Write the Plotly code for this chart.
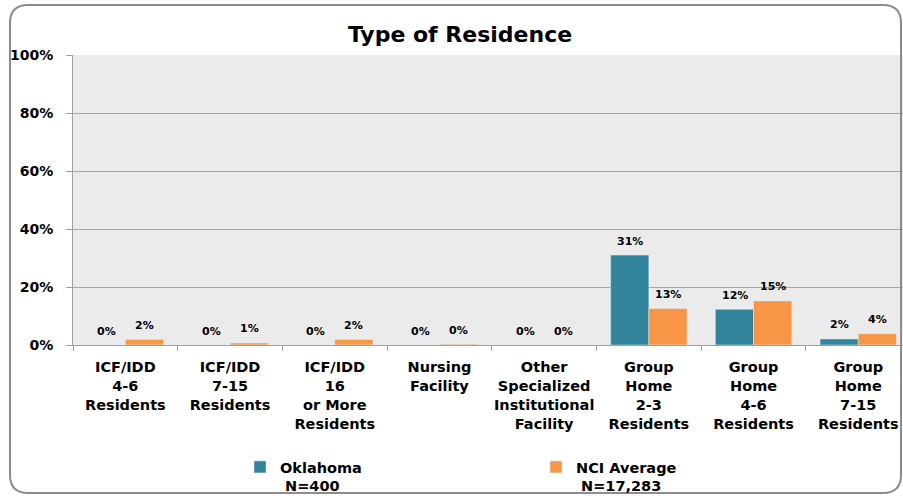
import plotly.graph_objects as go

categories = [
    "ICF/IDD<br>4-6<br>Residents",
    "ICF/IDD<br>7-15<br>Residents",
    "ICF/IDD<br>16<br>or More<br>Residents",
    "Nursing<br>Facility",
    "Other<br>Specialized<br>Institutional<br>Facility",
    "Group<br>Home<br>2-3<br>Residents",
    "Group<br>Home<br>4-6<br>Residents",
    "Group<br>Home<br>7-15<br>Residents",
]
oklahoma = [0.0, 0.0, 0.0, 0.0, 0.0, 31.0, 12.3, 2.1]
nci = [1.9, 0.7, 1.9, 0.3, 0.0, 12.6, 15.2, 3.9]
series_names = ["Oklahoma<br>\u00a0N=400", "NCI Average<br>\u00a0N=17,283"]
y_ticks = [0, 20, 40, 60, 80, 100]
y_tick_labels = ["0%", "20%", "40%", "60%", "80%", "100%"]

TEAL = "#31849B"
ORANGE = "#F79646"
FONT = "DejaVu Sans"

W, H = 903, 500
ML, MR, MT, MB = 73, 0, 55, 155
PW, PH = W - ML - MR, H - MT - MB
cat_px = 104.7
x_hi = -0.5 + PW / cat_px


def bold_lines(s):
    return "<b>" + s.replace("<br>", "</b><br><b>") + "</b>"


fig = go.Figure()
fig.add_bar(x=categories, y=oklahoma, name=bold_lines(series_names[0]), marker_color=TEAL)
fig.add_bar(x=categories, y=nci, name=bold_lines(series_names[1]), marker_color=ORANGE)

annotations = []
for vals, shift in ((oklahoma, -19), (nci, 19)):
    for c, v in zip(categories, vals):
        annotations.append(dict(
            x=c, y=v, xref="x", yref="y", text=f"<b>{round(v):d}%</b>",
            showarrow=False, xshift=shift, yshift=14, yanchor="middle",
            font=dict(family=FONT, size=11, color="#000"),
        ))


# rounded outer border (pixel -> paper)
def P(xp, yp):
    a, b = (xp - ML) / PW, (MT + PH - yp) / PH
    return f"{a:.5f},{b:.5f}"


x0, y0, x1, y1, r = 10, 5, 901, 493, 18
path = (
    f"M {P(x0 + r, y0)} L {P(x1 - r, y0)} Q {P(x1, y0)} {P(x1, y0 + r)} "
    f"L {P(x1, y1 - r)} Q {P(x1, y1)} {P(x1 - r, y1)} "
    f"L {P(x0 + r, y1)} Q {P(x0, y1)} {P(x0, y1 - r)} "
    f"L {P(x0, y0 + r)} Q {P(x0, y0)} {P(x0 + r, y0)} Z"
)

fig.update_layout(
    width=W, height=H,
    margin=dict(l=ML, r=MR, t=MT, b=MB, autoexpand=False),
    paper_bgcolor="white",
    plot_bgcolor="#EBEBEB",
    barmode="group",
    bargap=0.27,
    bargroupgap=0,
    font=dict(family=FONT, color="#000"),
    title=dict(text="<b>Type of Residence</b>", x=460 / W, xanchor="center",
               y=1 - 34 / H, yanchor="middle", yref="container",
               font=dict(family=FONT, size=22, color="#000")),
    xaxis=dict(
        range=[-0.5, x_hi], tickson="boundaries", ticks="outside", ticklen=5,
        tickcolor="#A0A0A0", showline=True, linecolor="#A0A0A0", linewidth=1,
        showgrid=False, tickangle=0, automargin=False,
        tickvals=categories, ticktext=[bold_lines(c) for c in categories],
        tickfont=dict(family=FONT, size=14.5, color="#000"),
        ticklabelstandoff=9,
    ),
    yaxis=dict(
        range=[0, 100], tickvals=y_ticks, ticktext=[f"<b>{t}</b>" for t in y_tick_labels],
        ticks="outside", ticklen=6, tickcolor="#A0A0A0", showline=True,
        linecolor="#A0A0A0", linewidth=1, gridcolor="#A6A6A6", gridwidth=1,
        zeroline=False, automargin=False,
        tickfont=dict(family=FONT, size=14, color="#000"),
        ticklabelstandoff=10,
    ),
    legend=dict(
        orientation="h", xref="container", yref="container",
        x=240 / W, xanchor="left",
        y=1 - 451 / H, yanchor="top",
        entrywidth=251, entrywidthmode="pixels", valign="top",
        font=dict(family=FONT, size=14.5, color="#000"),
        bgcolor="rgba(0,0,0,0)", tracegroupgap=0,
    ),
    annotations=annotations,
    shapes=[dict(type="path", path=path, xref="paper", yref="paper",
                 line=dict(color="#8C8C8C", width=2), layer="above")],
    showlegend=True,
)

fig.write_html(
    "out.html",
    config={"displayModeBar": False},
    post_script="document.body.style.margin='0';document.body.style.overflow='hidden';",
)
